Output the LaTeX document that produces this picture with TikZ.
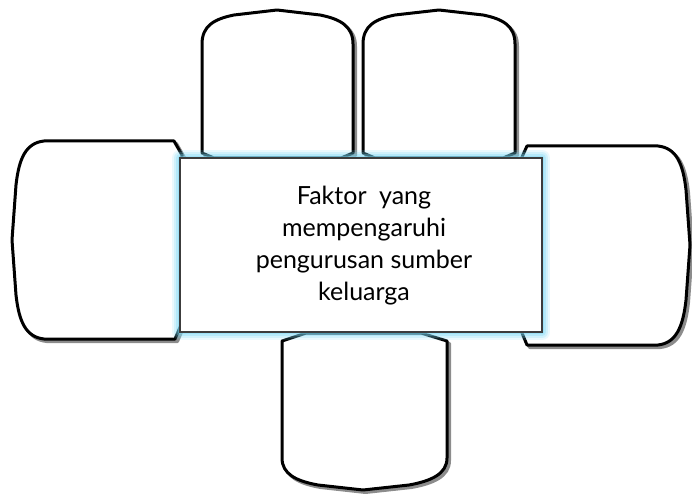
\documentclass[tikz,border=0pt]{standalone}
\usepackage{fontspec}
\setmainfont{Lato}
\definecolor{shadowgray}{RGB}{140,140,140}
\definecolor{glowc}{RGB}{120,215,245}
\definecolor{rectedge}{RGB}{60,60,60}
\begin{document}
\begin{tikzpicture}[x=1pt,y=-1pt,
  petalshadow/.style={fill=shadowgray, draw=shadowgray, line width=3pt, line join=round, shift={(2.5,2.5)}},
  petal/.style={fill=white, draw=black, line width=3pt, line join=round},
  centerbox/.style={draw=rectedge, fill=white, line width=1.1pt, minimum width=362pt, minimum height=174pt, inner sep=0pt},
  glowline/.style={draw=glowc, line join=round}]
\useasboundingbox (0,0) rectangle (692,494);
% top-left petal
\foreach \s in {petalshadow,petal}{
\draw[\s] (202,153) -- (202,44) .. controls (202,26) and (214,19) .. (234,15) -- (277,10) -- (320,15) .. controls (340,19) and (353,26) .. (353,44) -- (353,153) -- (341,158) -- (214,158) -- cycle;
}
% top-right petal
\foreach \s in {petalshadow,petal}{
\draw[\s] (363,153) -- (363,44) .. controls (363,26) and (375,19) .. (395,15) -- (439,10) -- (483,15) .. controls (503,19) and (515,26) .. (515,44) -- (515,153) -- (503,158) -- (375,158) -- cycle;
}
% bottom petal
\foreach \s in {petalshadow,petal}{
\draw[\s] (306,333) -- (282,341) -- (282,458) .. controls (282,474) and (296,481) .. (318,485) -- (363,490) -- (409,485) .. controls (431,481) and (447,474) .. (447,458) -- (447,341) -- (421,333) -- cycle;
}
% left petal
\foreach \s in {petalshadow,petal}{
\draw[\s] (182,155) -- (174,141) -- (44,141) .. controls (26,143) and (19,158) .. (16,185) -- (12,240) -- (16,295) .. controls (19,322) and (26,337) .. (44,339) -- (175,339) -- (181,325) -- cycle;
}
% right petal
\foreach \s in {petalshadow,petal}{
\draw[\s] (522,157) -- (527,146) -- (658,146) .. controls (676,148) and (683,163) .. (686,190) -- (690,245) -- (686,300) .. controls (683,327) and (676,343) .. (658,345) -- (527,345) -- (522,333) -- cycle;
}
% glow around the centre box
\foreach \w/\o in {16/0.15,12/0.22,8/0.3,4/0.4}{
\draw[glowline, line width=\w pt, opacity=\o] (180,158) rectangle (542,332);
}
\node[centerbox] (center) at (361,245) {};
\node[align=center, font=\fontsize{25}{32}\selectfont] (label) at (364,246)
  {Faktor\hspace{0.5em}yang\\mempengaruhi\\pengurusan sumber\\keluarga};
\end{tikzpicture}
\end{document}
